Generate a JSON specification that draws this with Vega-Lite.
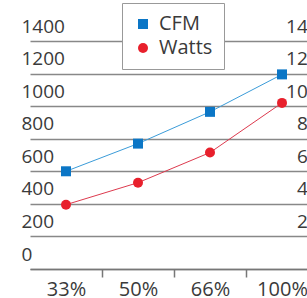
{
  "$schema": "https://vega.github.io/schema/vega-lite/v6.json",
  "autosize": {"type": "none"},
  "padding": {"left": 30, "top": 41, "right": 0, "bottom": 29},
  "width": 277,
  "height": 228,
  "background": "white",
  "config": {
    "view": {"stroke": null},
    "font": "Open Sans"
  },
  "data": {
    "values": [
      {"speed": "33%", "series": "CFM", "value": 600},
      {"speed": "50%", "series": "CFM", "value": 770},
      {"speed": "66%", "series": "CFM", "value": 965},
      {"speed": "100%", "series": "CFM", "value": 1195},
      {"speed": "33%", "series": "Watts", "value": 395},
      {"speed": "50%", "series": "Watts", "value": 530},
      {"speed": "66%", "series": "Watts", "value": 715},
      {"speed": "100%", "series": "Watts", "value": 1020}
    ]
  },
  "encoding": {
    "x": {
      "field": "speed",
      "type": "ordinal",
      "sort": ["33%", "50%", "66%", "100%"],
      "scale": {"type": "band", "range": [0, 288], "paddingInner": 0, "paddingOuter": 0},
      "axis": {
        "title": null,
        "labelAngle": 0,
        "labelFontSize": 20,
        "labelColor": "#3a3a3a",
        "labelPadding": 2,
        "tickOffset": 36,
        "labelOffset": -36,
        "tickSize": 8,
        "tickColor": "#777",
        "tickWidth": 1.5,
        "domainColor": "#777",
        "domainWidth": 1.5,
        "grid": false
      }
    }
  },
  "layer": [
    {
      "transform": [{"filter": "datum.series === 'CFM'"}],
      "mark": {"type": "line", "strokeWidth": 1, "color": "#3b9cd9"},
      "encoding": {
        "y": {
          "field": "value",
          "type": "quantitative",
          "scale": {"domain": [0, 1400], "nice": false},
          "axis": {
            "title": null,
            "orient": "left",
            "format": "d",
            "values": [0, 200, 400, 600, 800, 1000, 1200, 1400],
            "grid": true,
            "gridColor": "#888",
            "gridWidth": 1.5,
            "domain": false,
            "ticks": false,
            "tickSize": 0,
            "labelAlign": "left",
            "labelBaseline": "alphabetic",
            "labelOffset": -9,
            "labelPadding": 9,
            "labelFontSize": 19,
            "labelColor": "#3a3a3a"
          }
        }
      }
    },
    {
      "transform": [{"filter": "datum.series === 'Watts'"}],
      "mark": {"type": "line", "strokeWidth": 1, "color": "#dd3a4e"},
      "encoding": {
        "y": {"field": "value", "type": "quantitative", "axis": null}
      }
    },
    {
      "mark": {"type": "point", "filled": true, "size": 100, "opacity": 1},
      "encoding": {
        "y": {
          "field": "value",
          "type": "quantitative",
          "axis": {
            "title": null,
            "orient": "right",
            "format": "d",
            "values": [0, 200, 400, 600, 800, 1000, 1200, 1400],
            "grid": false,
            "domain": false,
            "ticks": false,
            "tickSize": 0,
            "labelAlign": "right",
            "labelBaseline": "alphabetic",
            "labelOffset": -9,
            "labelPadding": 22,
            "labelFontSize": 19,
            "labelColor": "#3a3a3a"
          }
        },
        "fill": {
          "field": "series",
          "type": "nominal",
          "title": null,
          "scale": {"domain": ["CFM", "Watts"], "range": ["#0b76c6", "#e8202c"]},
          "legend": {
            "orient": "none",
            "legendX": 92,
            "legendY": -38,
            "padding": 11,
            "strokeColor": "#999",
            "fillColor": "white",
            "labelFontSize": 20,
            "labelColor": "#3a3a3a",
            "symbolSize": 100,
            "rowPadding": 4,
            "labelOffset": 6,
            "symbolStrokeWidth": 0
          }
        },
        "shape": {
          "field": "series",
          "type": "nominal",
          "title": null,
          "scale": {"domain": ["CFM", "Watts"], "range": ["square", "circle"]},
          "legend": {
            "orient": "none",
            "legendX": 92,
            "legendY": -38,
            "padding": 11,
            "strokeColor": "#999",
            "fillColor": "white",
            "labelFontSize": 20,
            "labelColor": "#3a3a3a",
            "symbolSize": 100,
            "rowPadding": 4,
            "labelOffset": 6,
            "symbolStrokeWidth": 0
          }
        }
      }
    }
  ],
  "resolve": {"axis": {"y": "independent"}}
}
